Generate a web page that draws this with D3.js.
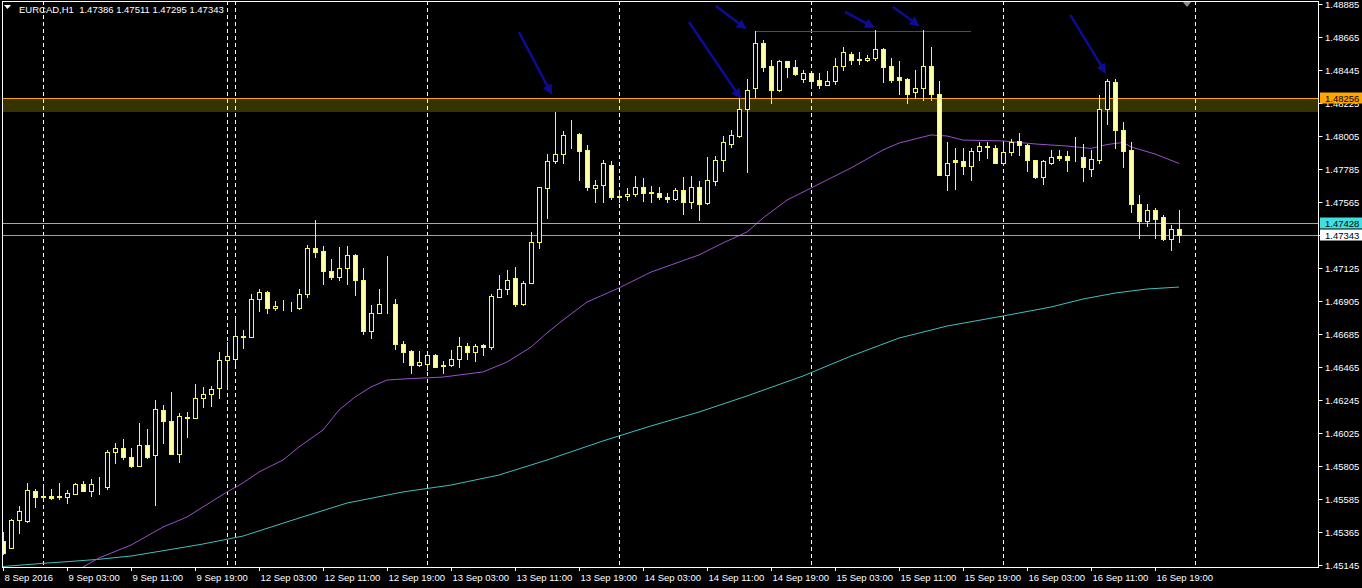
<!DOCTYPE html>
<html><head><meta charset="utf-8">
<script src="https://cdn.jsdelivr.net/npm/d3@7"></script>
<style>html,body{margin:0;padding:0;background:#000;overflow:hidden}</style>
</head><body>
<svg id="c" width="1362" height="588" xmlns="http://www.w3.org/2000/svg"></svg>
<script>
// ---- data (EURCAD H1, bars from 8 Sep 2016 19:00) ----
const opens = [1.45305,1.45258,1.45445,1.45438,1.45638,1.45605,1.45605,1.45602,1.45598,1.45618,
1.45682,1.45638,1.45675,1.45665,1.45895,1.45922,1.45868,1.45805,1.45948,1.45875,
1.46178,1.46102,1.45888,1.46128,1.46128,1.46255,1.46285,1.46322,1.46512,1.46515,
1.46668,1.46668,1.46915,1.46962,1.46855,1.46862,1.46862,1.46855,1.46955,1.47255,
1.47238,1.47105,1.47062,1.47125,1.47212,1.47045,1.46708,1.46828,1.46882,1.46882,
1.46615,1.46572,1.46475,1.46488,1.46545,1.46475,1.46475,1.46518,1.46608,1.46562,
1.46612,1.46595,1.46935,1.46982,1.47055,1.46885,1.47028,1.47295,1.47658,1.47835,
1.47885,1.48015,1.48018,1.47912,1.47655,1.47678,1.47812,1.47605,1.47602,1.47615,
1.47662,1.47632,1.47622,1.47595,1.47585,1.47645,1.47562,1.47662,1.47558,1.47708,
1.47848,1.47952,1.48002,1.48188,1.48322,1.48622,1.48472,1.48312,1.48505,1.48462,
1.48385,1.48422,1.48378,1.48348,1.48372,1.48472,1.48555,1.48515,1.48512,1.48528,
1.48588,1.48472,1.48395,1.48388,1.48295,1.48328,1.48472,1.48288,1.47745,1.47842,
1.47838,1.47808,1.47902,1.47938,1.47928,1.47828,1.47895,1.47972,1.47948,1.47845,
1.47732,1.47828,1.47872,1.47872,1.47858,1.47862,1.47788,1.47848,1.48188,1.48362,
1.48042,1.47912,1.47555,1.47435,1.47515,1.47462,1.47318,1.47386];
const highs = [1.45365,1.45452,1.45538,1.45692,1.45652,1.45685,1.45652,1.45692,1.45645,1.45692,
1.45705,1.45718,1.45732,1.45912,1.45958,1.45985,1.45925,1.46092,1.46052,1.46245,
1.46212,1.46298,1.46158,1.46162,1.46352,1.46332,1.46338,1.46565,1.46632,1.46798,
1.46712,1.46952,1.46988,1.46975,1.46902,1.46912,1.46895,1.46988,1.47278,1.47445,
1.47272,1.47182,1.47268,1.47272,1.47218,1.47122,1.46878,1.46985,1.47205,1.46915,
1.46635,1.46578,1.46572,1.46552,1.46552,1.46505,1.46578,1.46662,1.46622,1.46618,
1.46618,1.46952,1.47078,1.47115,1.47135,1.47035,1.47362,1.47665,1.47885,1.48168,
1.48035,1.48112,1.48028,1.47945,1.47712,1.47848,1.47838,1.47622,1.47655,1.47738,
1.47728,1.47672,1.47662,1.47622,1.47655,1.47735,1.47738,1.47702,1.47862,1.47872,
1.48008,1.48048,1.48278,1.48382,1.48702,1.48642,1.48512,1.48515,1.48508,1.48515,
1.48448,1.48428,1.48422,1.48438,1.48522,1.48595,1.48568,1.48568,1.48545,1.48712,
1.48592,1.48522,1.48502,1.48392,1.48448,1.48712,1.48595,1.48375,1.47968,1.47922,
1.47922,1.47925,1.47962,1.47968,1.47945,1.47945,1.47982,1.48022,1.47952,1.47848,
1.47845,1.47915,1.47915,1.47902,1.47995,1.47952,1.47915,1.48278,1.48382,1.48388,
1.48095,1.47968,1.47612,1.47555,1.47522,1.47478,1.47412,1.47511];
const lows = [1.45218,1.45255,1.45358,1.45432,1.45532,1.45578,1.45585,1.45585,1.45558,1.45615,
1.45635,1.45605,1.45618,1.45652,1.45825,1.45852,1.45798,1.45802,1.45858,1.45545,
1.45958,1.45885,1.45832,1.45998,1.46122,1.46195,1.46205,1.46258,1.46332,1.46488,
1.46592,1.46665,1.46835,1.46822,1.46848,1.46845,1.46838,1.46852,1.46932,1.47195,
1.47018,1.47052,1.47045,1.47015,1.46948,1.46682,1.46655,1.46822,1.46822,1.46582,
1.46495,1.46428,1.46472,1.46448,1.46462,1.46428,1.46470,1.46462,1.46518,1.46502,
1.46545,1.46585,1.46932,1.46955,1.46872,1.46878,1.47025,1.47255,1.47455,1.47822,
1.47828,1.47922,1.47712,1.47642,1.47568,1.47568,1.47582,1.47568,1.47578,1.47605,
1.47575,1.47568,1.47582,1.47568,1.47578,1.47485,1.47528,1.47448,1.47555,1.47678,
1.47775,1.47932,1.47998,1.47768,1.48268,1.48435,1.48222,1.48302,1.48395,1.48412,
1.48368,1.48322,1.48322,1.48345,1.48352,1.48448,1.48488,1.48488,1.48502,1.48512,
1.48368,1.48368,1.48285,1.48222,1.48255,1.48245,1.48245,1.47742,1.47645,1.47652,
1.47755,1.47715,1.47848,1.47855,1.47822,1.47812,1.47878,1.47878,1.47775,1.47728,
1.47685,1.47818,1.47848,1.47775,1.47835,1.47708,1.47738,1.47822,1.48085,1.47928,
1.47795,1.47495,1.47328,1.47408,1.47322,1.47312,1.47242,1.47295];
const closes = [1.45225,1.45445,1.45505,1.45645,1.45598,1.45595,1.45592,1.45598,1.45625,1.45682,
1.45638,1.45682,1.45678,1.45898,1.45922,1.45868,1.45805,1.45945,1.45868,1.46182,
1.46102,1.45888,1.46138,1.46135,1.46255,1.46282,1.46315,1.46512,1.46538,1.46672,
1.46672,1.46918,1.46962,1.46855,1.46872,1.46865,1.46865,1.46955,1.47255,1.47232,
1.47102,1.47062,1.47128,1.47212,1.47048,1.46705,1.46828,1.46882,1.46885,1.46615,
1.46568,1.46475,1.46495,1.46545,1.46468,1.46472,1.46515,1.46608,1.46562,1.46602,
1.46595,1.46938,1.46982,1.47048,1.46885,1.47028,1.47295,1.47662,1.47838,1.47885,
1.48012,1.48018,1.47908,1.47662,1.47678,1.47828,1.47595,1.47595,1.47615,1.47662,
1.47628,1.47622,1.47595,1.47588,1.47645,1.47568,1.47662,1.47555,1.47712,1.47848,
1.47962,1.48012,1.48188,1.48315,1.48628,1.48468,1.48315,1.48505,1.48462,1.48418,
1.48428,1.48375,1.48348,1.48372,1.48472,1.48562,1.48512,1.48518,1.48528,1.48588,
1.48468,1.48378,1.48378,1.48288,1.48328,1.48472,1.48288,1.47748,1.47828,1.47832,
1.47808,1.47905,1.47938,1.47935,1.47828,1.47895,1.47962,1.47942,1.47842,1.47732,
1.47838,1.47862,1.47855,1.47845,1.47855,1.47795,1.47852,1.48188,1.48372,1.48042,
1.47908,1.47555,1.47435,1.47515,1.47452,1.47318,1.47386,1.47343];

// moving averages at sample bars
const maFastIdx = [10,12,16,20,23,25,28,30,32,35,37,40,42,44,46,48,50,55,60,63,66,68,70,73,77,81,87,90,93,95,98,101,106,110,112,116,118,120,125,129,133,136,138,140,141,144,147];
const maFastVal = [1.45132,1.45192,1.45278,1.45398,1.45465,1.45532,1.45632,1.45692,1.45765,1.45845,1.45932,1.46045,1.46178,1.46265,1.46332,1.46378,1.46385,1.46398,1.46432,1.46498,1.46598,1.46692,1.46778,1.46898,1.46992,1.47098,1.47212,1.47292,1.47365,1.47458,1.47578,1.47658,1.47792,1.47912,1.47958,1.48012,1.48005,1.47978,1.47972,1.47952,1.47938,1.47922,1.47948,1.47962,1.47932,1.47885,1.47822];
const maSlowIdx = [0,5,8,12,16,20,25,30,37,43,50,56,62,68,75,81,87,93,100,106,112,118,125,131,135,139,143,147];
const maSlowVal = [1.45135,1.45156,1.45167,1.45183,1.45205,1.45240,1.45285,1.45338,1.45458,1.45558,1.45632,1.45678,1.45745,1.45845,1.45972,1.46072,1.46165,1.46272,1.46405,1.46538,1.46658,1.46738,1.46805,1.46865,1.46918,1.46958,1.46985,1.46998];

const timeLabels = ["8 Sep 2016","9 Sep 03:00","9 Sep 11:00","9 Sep 19:00","12 Sep 03:00","12 Sep 11:00","12 Sep 19:00","13 Sep 03:00","13 Sep 11:00","13 Sep 19:00","14 Sep 03:00","14 Sep 11:00","14 Sep 19:00","15 Sep 03:00","15 Sep 11:00","15 Sep 19:00","16 Sep 03:00","16 Sep 11:00","16 Sep 19:00"];
const timeLabelIdx = [0,8,16,24,32,40,48,56,64,72,80,88,96,104,112,120,128,136,144];
const priceTicks = [1.48885,1.48665,1.48445,1.48225,1.48005,1.47785,1.47565,1.47345,1.47125,1.46905,1.46685,1.46465,1.46245,1.46025,1.45805,1.45585,1.45365,1.45145];
const separatorIdx = [5,28,29,53,77,101,125,149];

const zoneTop = 1.48256, zoneBottom = 1.48165;
const askPrice = 1.47428, bidPrice = 1.47343;
const topLineFrom = 94, topLineTo = 121, topLinePrice = 1.48708;
const arrowFromIdx = [64.5,85.75,89.1,105.25,111.25,133.4];
const arrowFromPrice = [1.48698,1.48765,1.48872,1.48832,1.48865,1.48812];
const arrowToIdx = [68.5,92.1,92.75,108.75,114.4,137.75];
const arrowToPrice = [1.48292,1.48265,1.48725,1.48732,1.48745,1.48432];
const titleText = "EURCAD,H1  1.47386 1.47511 1.47295 1.47343";

// ---- drawing ----
const W = 1362, H = 588;
const plotL = 2, plotR = 1318, plotT = 1, plotB = 567;
const svg = d3.select("#c");
svg.append("rect").attr("width", W).attr("height", H).attr("fill", "#000");

const x = d3.scaleLinear().domain([0, 147]).range([3, 1179]);
const y = d3.scaleLinear().domain([1.45145, 1.48885]).range([565, 4]);

svg.append("defs").append("clipPath").attr("id", "plot")
  .append("rect").attr("x", plotL).attr("y", plotT).attr("width", plotR - plotL).attr("height", plotB - plotT);

const g = svg.append("g").attr("clip-path", "url(#plot)");
const font = "'Liberation Sans', Arial, sans-serif";

// resistance zone
g.append("rect").attr("x", plotL).attr("width", plotR - plotL)
  .attr("y", y(zoneTop)).attr("height", y(zoneBottom) - y(zoneTop))
  .attr("fill", "#373300");

// separators
g.selectAll("line.sep").data(separatorIdx).join("line")
  .attr("x1", d => Math.round(x(d)) + 0.5).attr("x2", d => Math.round(x(d)) + 0.5)
  .attr("y1", plotT).attr("y2", plotB)
  .attr("stroke", "#ffffff").attr("stroke-width", 1).attr("stroke-dasharray", "4,3");

// moving averages
const idx = d3.range(opens.length);
const lineGen = d3.line().x(d => x(d[0])).y(d => y(d[1]));
g.append("path").datum(maSlowIdx.map((d, i) => [d, maSlowVal[i]]))
  .attr("d", lineGen).attr("fill", "none").attr("stroke", "#3fc0c0").attr("stroke-width", 1);
g.append("path").datum(maFastIdx.map((d, i) => [d, maFastVal[i]]))
  .attr("d", lineGen).attr("fill", "none").attr("stroke", "#9a4fd0").attr("stroke-width", 1);

// horizontal price lines
const hl = g.append("g").attr("shape-rendering", "crispEdges");
hl.append("line").attr("x1", plotL).attr("x2", plotR)
  .attr("y1", Math.round(y(zoneTop)) + 0.5).attr("y2", Math.round(y(zoneTop)) + 0.5)
  .attr("stroke", "#ffa500").attr("stroke-width", 1);
hl.append("line").attr("x1", plotL).attr("x2", plotR)
  .attr("y1", Math.round(y(askPrice)) + 0.5).attr("y2", Math.round(y(askPrice)) + 0.5)
  .attr("stroke", "#20e0e8").attr("stroke-width", 1);
hl.append("line").attr("x1", plotL).attr("x2", plotR)
  .attr("y1", Math.round(y(bidPrice)) + 0.5).attr("y2", Math.round(y(bidPrice)) + 0.5)
  .attr("stroke", "#a0a0a0").attr("stroke-width", 1);

// top trend line
hl.append("line").attr("x1", x(topLineFrom)).attr("x2", x(topLineTo))
  .attr("y1", Math.round(y(topLinePrice)) + 0.5).attr("y2", Math.round(y(topLinePrice)) + 0.5)
  .attr("stroke", "#e01010").attr("stroke-width", 1);

// candles
const cg = g.append("g").attr("shape-rendering", "crispEdges");
idx.forEach(i => {
  const cx = Math.round(x(i)) + 0.5;
  const o = opens[i], c = closes[i];
  cg.append("line").attr("x1", cx).attr("x2", cx)
    .attr("y1", Math.round(y(highs[i]))).attr("y2", Math.round(y(lows[i])) + 1)
    .attr("stroke", "#f4f46a").attr("stroke-width", 1);
  const top = Math.round(y(Math.max(o, c))), bot = Math.round(y(Math.min(o, c)));
  cg.append("rect").attr("x", cx - 2).attr("width", 4)
    .attr("y", top + 0.5).attr("height", Math.max(bot - top, 0))
    .attr("fill", c < o ? "#ffffa8" : "#000")
    .attr("stroke", "#f4f46a").attr("stroke-width", 1);
});

// arrows
const defs = svg.select("defs");
defs.append("marker").attr("id", "ah").attr("viewBox", "0 0 10 10")
  .attr("refX", 8).attr("refY", 5).attr("markerWidth", 4).attr("markerHeight", 4)
  .attr("orient", "auto").attr("markerUnits", "strokeWidth")
  .append("path").attr("d", "M0,0 L10,5 L0,10 z").attr("fill", "#0c0c96");
g.selectAll("line.arrow").data(arrowFromIdx).join("line")
  .attr("x1", (d, i) => x(d)).attr("y1", (d, i) => y(arrowFromPrice[i]))
  .attr("x2", (d, i) => x(arrowToIdx[i])).attr("y2", (d, i) => y(arrowToPrice[i]))
  .attr("stroke", "#0c0c96").attr("stroke-width", 2.5).attr("marker-end", "url(#ah)");

// shift marker
svg.append("path")
  .attr("d", `M${x(148) - 5},1 L${x(148) + 5},1 L${x(148)},7 z`).attr("fill", "#8a8a8a");

// frame
svg.append("rect").attr("x", plotL + 0.5).attr("y", plotT + 0.5)
  .attr("width", plotR - plotL).attr("height", plotB - plotT)
  .attr("fill", "none").attr("stroke", "#ffffff").attr("stroke-width", 1);

// y axis (right)
const ya = svg.append("g").attr("font-family", font).attr("font-size", 9.5);
priceTicks.forEach(p => {
  const py = Math.round(y(p)) + 0.5;
  ya.append("line").attr("x1", plotR + 0.5).attr("x2", plotR + 4.5).attr("y1", py).attr("y2", py)
    .attr("stroke", "#fff");
  ya.append("text").attr("x", 1325).attr("y", py).attr("dy", "0.35em")
    .attr("fill", "#ffffff").text(d3.format(".5f")(p));
});
// price labels
function priceBox(p, bg, fg) {
  const py = y(p);
  ya.append("rect").attr("x", 1320).attr("y", Math.round(py) - 5.5).attr("width", 42).attr("height", 11).attr("fill", bg);
  ya.append("text").attr("x", 1325).attr("y", Math.round(py) + 0.5).attr("dy", "0.35em")
    .attr("fill", fg).text(d3.format(".5f")(p));
}
priceBox(zoneTop, "#ffa500", "#000");
priceBox(askPrice, "#40e0e0", "#000");
priceBox(bidPrice, "#ffffff", "#000");

// x axis (bottom)
const xa = svg.append("g").attr("font-family", font).attr("font-size", 9.5);
timeLabelIdx.forEach((d, i) => {
  const px = Math.round(x(d)) + 0.5;
  xa.append("line").attr("x1", px).attr("x2", px).attr("y1", plotB).attr("y2", plotB + 4).attr("stroke", "#fff");
  xa.append("text").attr("x", px + 1).attr("y", 581).attr("fill", "#ffffff").text(timeLabels[i]);
});

// title
svg.append("path").attr("d", "M4,5 L11,5 L7.5,9 z").attr("fill", "#ffffff");
svg.append("text").attr("x", 19).attr("y", 13).attr("font-family", font).attr("font-size", 9.5)
  .attr("fill", "#ffffff").style("white-space", "pre").text(titleText);
</script>
</body></html>
